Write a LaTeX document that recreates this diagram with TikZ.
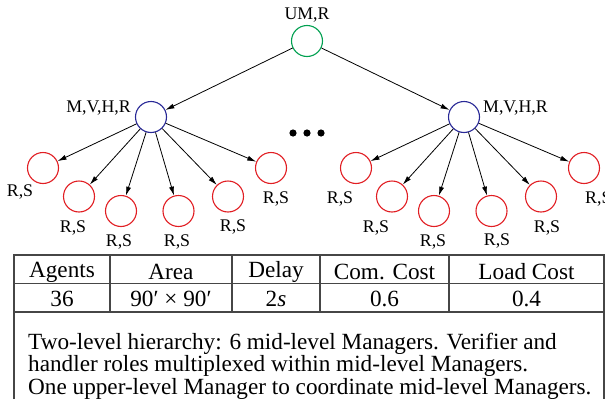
\documentclass[tikz,border=0pt]{standalone}
\usepackage{fontspec}
\setmainfont{Liberation Serif}
\usetikzlibrary{arrows.meta}
\definecolor{topgreen}{RGB}{0,160,80}
\definecolor{midblue}{RGB}{40,40,150}
\definecolor{leafred}{RGB}{225,30,35}
\definecolor{tabline}{RGB}{70,70,70}
\begin{document}
\begin{tikzpicture}[x=1pt,y=-1pt,
  agent/.style={circle, draw, line width=1.1pt, minimum size=31pt, inner sep=0pt},
  topagent/.style={agent, draw=topgreen},
  midagent/.style={agent, draw=midblue},
  leafagent/.style={agent, draw=leafred},
  lbl/.style={font=\fontsize{17.8}{19}\selectfont, inner sep=0pt},
  link/.style={line width=0.8pt, -{Latex[length=9pt,width=5pt]}},
  tab/.style={font=\fontsize{23.2}{25}\selectfont, inner sep=0pt},
  rule/.style={draw=tabline, line width=1.2pt}
]
\useasboundingbox (0,0) rectangle (605,399);
% nodes
\node[topagent] (t) at (307,41) {};
\node[midagent] (m1) at (151,117) {};
\node[midagent] (m2) at (464,117) {};
\foreach \i/\dx/\y in {1/-108/168, 2/-72/196.5, 3/-30/211, 4/27.5/211, 5/77/196.5, 6/120/168}{
  \node[leafagent] (a\i) at ({151+\dx},\y) {};
  \node[leafagent] (b\i) at ({464+\dx},\y) {};
}
% labels
\node[lbl] (lt) at (307,15) {UM,R};
\node[lbl, anchor=east] (lm1) at (131,108) {M,V,H,R};
\node[lbl, anchor=west] (lm2) at (483,108) {M,V,H,R};
\node[lbl] (la1) at (20,192) {R,S};
\node[lbl] (la2) at (73,227.5) {R,S};
\node[lbl] (la3) at (119,241.5) {R,S};
\node[lbl] (la4) at (177,241.5) {R,S};
\node[lbl] (la5) at (233,227) {R,S};
\node[lbl] (la6) at (276,198.5) {R,S};
\node[lbl] (lb1) at (340,198.5) {R,S};
\node[lbl] (lb2) at (376,227.5) {R,S};
\node[lbl] (lb3) at (433,241.5) {R,S};
\node[lbl] (lb4) at (497,240.5) {R,S};
\node[lbl] (lb5) at (547,227.5) {R,S};
\node[lbl, anchor=west] (lb6) at (585,198.5) {R,S};
% dots
\foreach \x in {293,307,321}{\fill (\x,133) circle (3.6pt);}
% arrows
\draw[link] (t) -- (m1);
\draw[link] (t) -- (m2);
\foreach \i in {1,...,6}{
  \draw[link] (m1) -- (a\i);
  \draw[link] (m2) -- (b\i);
}
% table
\draw[rule] (14,399) -- (14,255) -- (604,255) -- (604,399);
\draw[rule] (14,283.5) -- (604,283.5);
\draw[rule] (14,312) -- (604,312);
\foreach \x in {110,232,320,449}{\draw[rule] (\x,255) -- (\x,312);}
\node[tab] (h1) at (62,272) {Agents};
\node[tab] (h2) at (171,272) {Area};
\node[tab] (h3) at (276,272) {Delay};
\node[tab] (h4) at (384.5,272) {Com. Cost};
\node[tab] (h5) at (526.5,272) {Load Cost};
\node[tab] (v1) at (62,299) {36};
\node[tab] (v2) at (171,299) {90′ × 90′};
\node[tab] (v3) at (276,299) {2\textit{s}};
\node[tab] (v4) at (384.5,299) {0.6};
\node[tab] (v5) at (526.5,299) {0.4};
\node[tab, anchor=west] (p1) at (28,343.5) {Two-level hierarchy: 6 mid-level Managers. Verifier and};
\node[tab, anchor=west] (p2) at (28,366) {handler roles multiplexed within mid-level Managers.};
\node[tab, anchor=west] (p3) at (28,389) {One upper-level Manager to coordinate mid-level Managers.};
\end{tikzpicture}
\end{document}
